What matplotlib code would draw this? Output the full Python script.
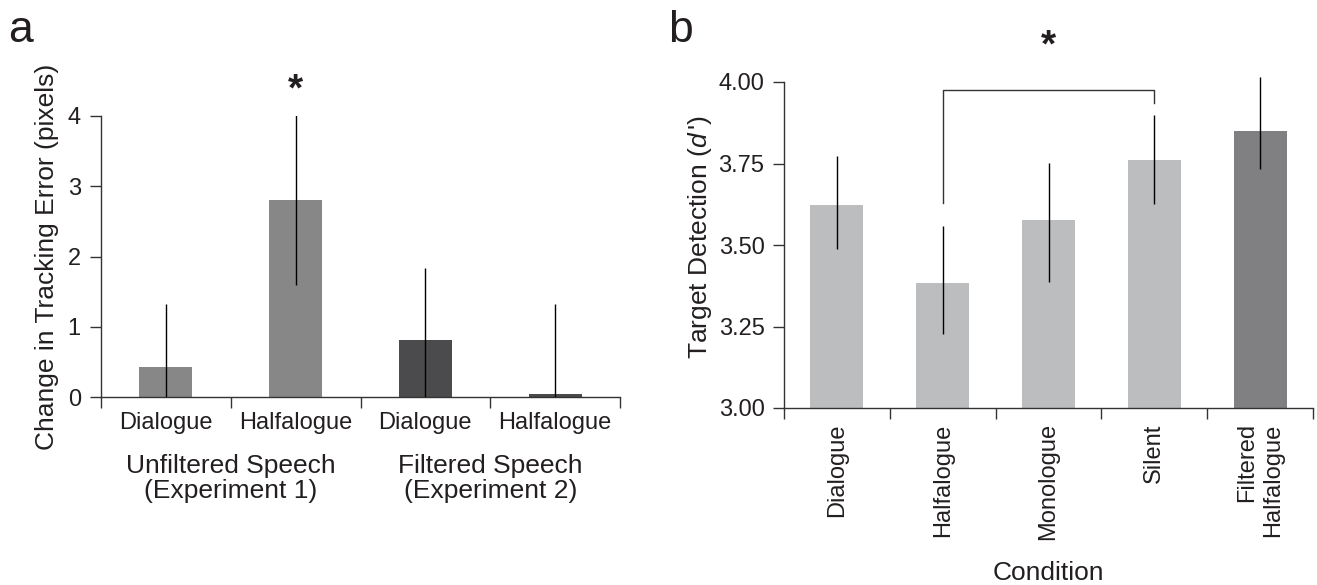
import matplotlib
matplotlib.use("Agg")
import matplotlib.pyplot as plt
import numpy as np

plt.rcParams['font.family'] = ['Liberation Sans', 'DejaVu Sans']
plt.rcParams['mathtext.fontset'] = 'custom'
plt.rcParams['mathtext.it'] = 'Liberation Sans:italic'
plt.rcParams['mathtext.rm'] = 'Liberation Sans'

# ---- Panel a data ----
a_labels = ["Dialogue", "Halfalogue", "Dialogue", "Halfalogue"]
a_values = [0.43, 2.80, 0.81, 0.04]
a_errors = [0.89, 1.21, 1.03, 1.28]
a_groups = ["Unfiltered Speech\n(Experiment 1)", "Filtered Speech\n(Experiment 2)"]
a_colors = ["#878787", "#878787", "#4b4b4d", "#4b4b4d"]
a_yticks = [0, 1, 2, 3, 4]

# ---- Panel b data ----
b_labels = ["Dialogue", "Halfalogue", "Monologue", "Silent", "Filtered\nHalfalogue"]
b_values = [3.622, 3.382, 3.577, 3.760, 3.851]
b_err_low = [0.134, 0.155, 0.191, 0.133, 0.119]
b_err_high = [0.152, 0.175, 0.175, 0.140, 0.165]
b_colors = ["#bcbdbf", "#bcbdbf", "#bcbdbf", "#bcbdbf", "#808083"]
b_yticks = [3.00, 3.25, 3.50, 3.75, 4.00]

FS = 17      # tick labels
LS = 19      # axis / group labels
tc = '#231f20'
spine_c = "#333333"

fig = plt.figure(figsize=(13.17, 5.85), dpi=100)
W, H = 1317, 585

# ================= Panel a =================
ax = fig.add_axes([101 / W, 1 - 397 / H, (620 - 101) / W, (397 - 116) / H])
xa = np.arange(len(a_values))
ax.bar(xa, a_values, width=0.41, color=a_colors, zorder=2)
ax.errorbar(xa, a_values, yerr=a_errors, fmt='none', ecolor='black', elinewidth=1.0,
            capsize=0, zorder=3)
ax.set_xlim(-0.5, len(a_values) - 0.5)
ax.set_ylim(0, 4)
ax.set_yticks(a_yticks)
ax.set_yticklabels([str(t) for t in a_yticks])
ax.set_xticks(np.arange(len(a_values) + 1) - 0.5)
ax.set_xticklabels([])
ax.set_xticks(xa, minor=True)
ax.set_xticklabels(a_labels, minor=True)
ax.tick_params(axis='x', which='major', length=8, width=1, color=spine_c, direction='out')
ax.tick_params(axis='x', which='minor', length=0, pad=11, labelsize=FS, labelcolor=tc)
ax.tick_params(axis='y', length=8, width=1, color=spine_c, pad=6.5, labelsize=FS, labelcolor=tc)
for s in ['top', 'right']:
    ax.spines[s].set_visible(False)
for s in ['left', 'bottom']:
    ax.spines[s].set_color(spine_c)
    ax.spines[s].set_linewidth(1)
ax.set_ylabel("Change in Tracking Error (pixels)", fontsize=LS, color=tc, labelpad=6)
for gi, g in enumerate(a_groups):
    ax.text(gi * 2 + 0.5, -0.29, g, transform=ax.get_xaxis_transform(), ha='center',
            va='center', fontsize=LS, color=tc, linespacing=1.02)
ax.text(1, 4.37, "*", ha='center', va='center', fontsize=28, fontweight='bold',
        color=tc, clip_on=False)
fig.text(8 / W, 1 - 42 / H, "a", fontsize=32, color=tc, ha='left', va='baseline')

# ================= Panel b =================
ytop = 4.05
bx = fig.add_axes([784 / W, 1 - 408 / H, (1313 - 784) / W, (408 - 82) / H * (ytop - 3) / 1.0])
xb = np.arange(len(b_values))
bx.bar(xb, b_values, width=0.5, color=b_colors, zorder=2)
bx.errorbar(xb, b_values, yerr=[b_err_low, b_err_high], fmt='none', ecolor='black',
            elinewidth=1.0, capsize=0, zorder=3)
bx.set_xlim(-0.5, len(b_values) - 0.5)
bx.set_ylim(3, ytop)
bx.spines['left'].set_bounds(3, 4)
bx.set_yticks(b_yticks)
bx.set_yticklabels([f"{t:.2f}" for t in b_yticks])
bx.set_xticks(np.arange(len(b_values) + 1) - 0.5)
bx.set_xticklabels([])
bx.set_xticks(xb, minor=True)
bx.set_xticklabels(b_labels, minor=True, rotation=90, multialignment='right')
bx.tick_params(axis='x', which='major', length=8, width=1, color=spine_c, direction='out')
bx.tick_params(axis='x', which='minor', length=0, pad=11, labelsize=FS, labelcolor=tc)
bx.tick_params(axis='y', length=8, width=1, color=spine_c, pad=6, labelsize=FS, labelcolor=tc)
for s in ['top', 'right']:
    bx.spines[s].set_visible(False)
for s in ['left', 'bottom']:
    bx.spines[s].set_color(spine_c)
    bx.spines[s].set_linewidth(1)
bx.set_ylabel(r"Target Detection ($\mathit{d\,}$')", fontsize=LS, color=tc, labelpad=3)
bx.set_xlabel("Condition", fontsize=LS, color=tc, labelpad=15)
# significance bracket between Halfalogue and Silent
bx.plot([1, 1, 3, 3], [3.63, 3.975, 3.975, 3.936], color=spine_c, lw=1, clip_on=False, zorder=4)
bx.text(2, 4.11, "*", ha='center', va='center', fontsize=28, fontweight='bold',
        color=tc, clip_on=False)
fig.text(668 / W, 1 - 42 / H, "b", fontsize=32, color=tc, ha='left', va='baseline')

fig.savefig("out.png", dpi=100)
